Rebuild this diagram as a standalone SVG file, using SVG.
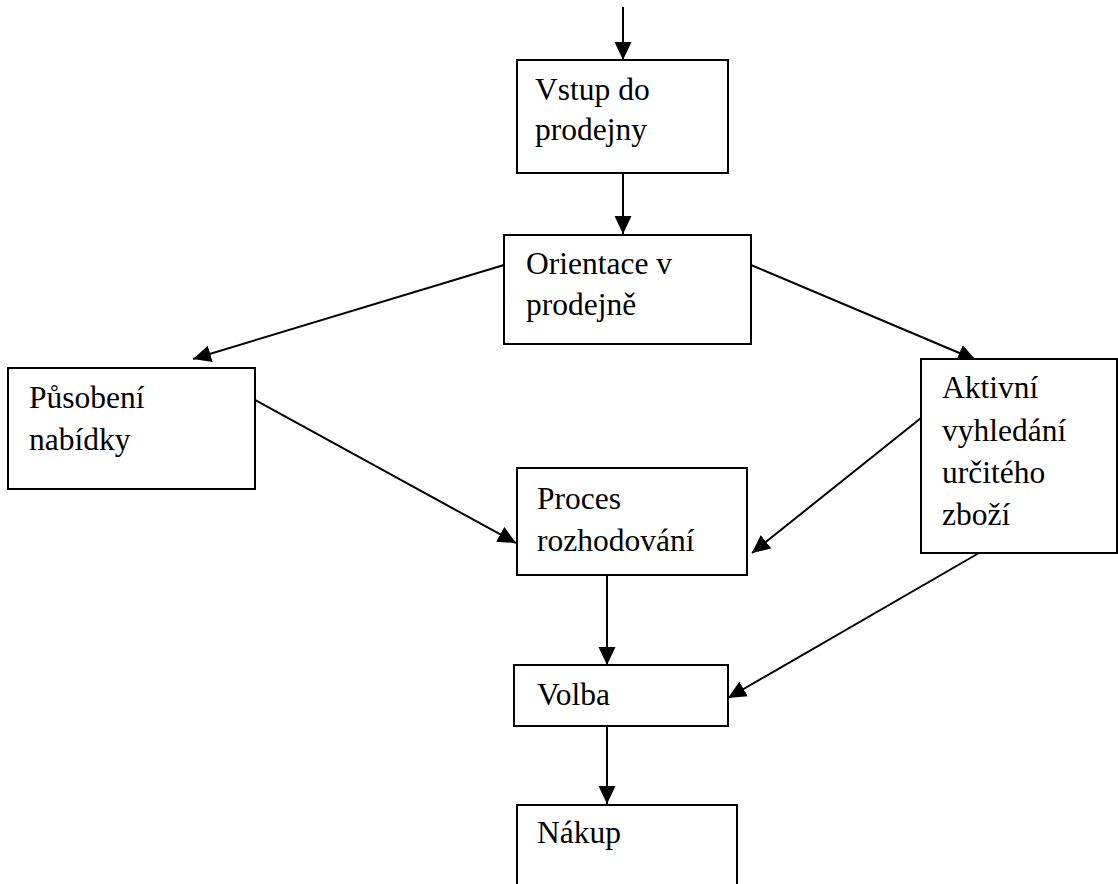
<svg xmlns="http://www.w3.org/2000/svg" width="1118" height="884" viewBox="0 0 1118 884">
<defs>
<marker id="arr" markerUnits="userSpaceOnUse" markerWidth="19" markerHeight="18" refX="18" refY="9" orient="auto">
<path d="M0,0.5 L18,9 L0,17.5 z" fill="#000"/>
</marker>
<style>
.box{fill:#fff;stroke:#000;stroke-width:2}
.c{stroke:#000;stroke-width:2;fill:none;marker-end:url(#arr)}
</style>
</defs>
<rect width="1118" height="884" fill="#fff"/>
<g id="connectors">
<line class="c" x1="623" y1="7" x2="623" y2="60"/>
<line class="c" x1="623" y1="173" x2="623" y2="234"/>
<line class="c" x1="504" y1="265" x2="193" y2="359"/>
<line class="c" x1="751" y1="265" x2="976" y2="360"/>
<line class="c" x1="244" y1="394" x2="516" y2="543"/>
<line class="c" x1="921" y1="418" x2="752" y2="553"/>
<line class="c" x1="607" y1="575" x2="607" y2="665"/>
<line class="c" x1="979" y1="553" x2="728" y2="698"/>
<line class="c" x1="607" y1="726" x2="607" y2="804"/>
</g>
<g font-family="Liberation Serif, Times New Roman, DejaVu Serif, serif" font-size="31.5" fill="#000">
<g id="vstup">
<rect class="box" x="517" y="60" width="211" height="113"/>
<text x="535" y="100">Vstup do</text>
<text x="535" y="140">prodejny</text>
</g>
<g id="orientace">
<rect class="box" x="504" y="235" width="247" height="109"/>
<text x="526" y="274">Orientace v</text>
<text x="526" y="315">prodejně</text>
</g>
<g id="pusobeni">
<rect class="box" x="8" y="368" width="247" height="121"/>
<text x="29" y="408">Působení</text>
<text x="29" y="450">nabídky</text>
</g>
<g id="aktivni">
<rect class="box" x="921" y="359" width="196" height="194"/>
<text x="942" y="398">Aktivní</text>
<text x="942" y="441">vyhledání</text>
<text x="942" y="483">určitého</text>
<text x="942" y="525">zboží</text>
</g>
<g id="proces">
<rect class="box" x="517" y="468" width="230" height="107"/>
<text x="537" y="509">Proces</text>
<text x="537" y="551">rozhodování</text>
</g>
<g id="volba">
<rect class="box" x="514" y="665" width="214" height="61"/>
<text x="537" y="705">Volba</text>
</g>
<g id="nakup">
<rect class="box" x="517" y="805" width="220" height="100"/>
<text x="537" y="843">Nákup</text>
</g>
</g>
</svg>
